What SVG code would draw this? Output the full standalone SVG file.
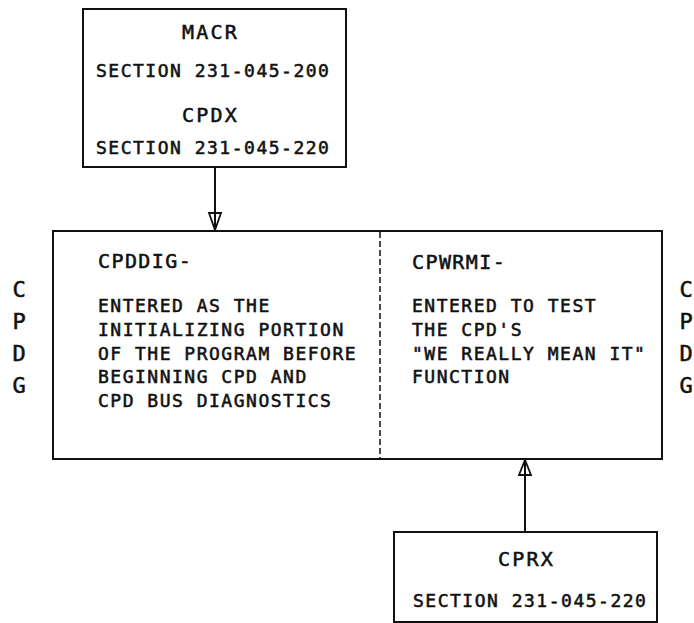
<svg xmlns="http://www.w3.org/2000/svg" width="694" height="623" viewBox="0 0 694 623">
<style>
text{font-family:"DejaVu Sans Mono","Liberation Mono",monospace;fill:#111;stroke:#111;stroke-width:0.55px;}
.t{font-size:20px;letter-spacing:2.2px;}
.h{font-size:20px;letter-spacing:1.4px;}
.b{font-size:18px;letter-spacing:1.5px;}
.s{font-size:22px;}
.box{fill:#fff;stroke:#111;stroke-width:2;}
.ln{stroke:#111;stroke-width:2;fill:none;}
.dash{stroke:#111;stroke-width:1.5;stroke-dasharray:6 3;fill:none;}
.ah{fill:#fff;stroke:#111;stroke-width:1.8;stroke-linejoin:miter;}
</style>
<rect width="694" height="623" fill="#fff"/>
<g id="connectors">
<line class="ln" x1="215" y1="167" x2="215" y2="231"/>
<polygon class="ah" points="209,213 221,213 215,230"/>
<line class="ln" x1="215" y1="213" x2="215" y2="230"/>
<line class="ln" x1="525" y1="532" x2="525" y2="459"/>
<polygon class="ah" points="519,475 531,475 525,460"/>
<line class="ln" x1="525" y1="475" x2="525" y2="460"/>
</g>
<g id="node-macr-cpdx">
<rect class="box" x="83" y="9" width="263" height="158"/>
<text class="t" x="182" y="39">MACR</text>
<text class="b" x="96" y="77">SECTION 231-045-200</text>
<text class="t" x="182" y="122">CPDX</text>
<text class="b" x="96" y="154">SECTION 231-045-220</text>
</g>
<g id="node-cpdg">
<rect class="box" x="53" y="231" width="609" height="228"/>
<line class="dash" x1="380" y1="232" x2="380" y2="458"/>
<text class="h" x="98" y="268">CPDDIG-</text>
<text class="b" x="98" y="312">ENTERED AS THE</text>
<text class="b" x="98" y="336">INITIALIZING PORTION</text>
<text class="b" x="98" y="360">OF THE PROGRAM BEFORE</text>
<text class="b" x="98" y="383">BEGINNING CPD AND</text>
<text class="b" x="98" y="407">CPD BUS DIAGNOSTICS</text>
<text class="h" x="412" y="269">CPWRMI-</text>
<text class="b" x="412" y="312">ENTERED TO TEST</text>
<text class="b" x="412" y="336">THE CPD'S</text>
<text class="b" x="412" y="360">"WE REALLY MEAN IT"</text>
<text class="b" x="412" y="383">FUNCTION</text>
</g>
<g id="label-left">
<text class="s" x="19" y="297" text-anchor="middle">C</text>
<text class="s" x="19" y="329" text-anchor="middle">P</text>
<text class="s" x="19" y="361" text-anchor="middle">D</text>
<text class="s" x="19" y="393" text-anchor="middle">G</text>
</g>
<g id="label-right">
<text class="s" x="686" y="297" text-anchor="middle">C</text>
<text class="s" x="686" y="329" text-anchor="middle">P</text>
<text class="s" x="686" y="361" text-anchor="middle">D</text>
<text class="s" x="686" y="393" text-anchor="middle">G</text>
</g>
<g id="node-cprx">
<rect class="box" x="394" y="532" width="263" height="90"/>
<text class="t" x="498" y="566">CPRX</text>
<text class="b" x="413" y="607">SECTION 231-045-220</text>
</g>
</svg>
